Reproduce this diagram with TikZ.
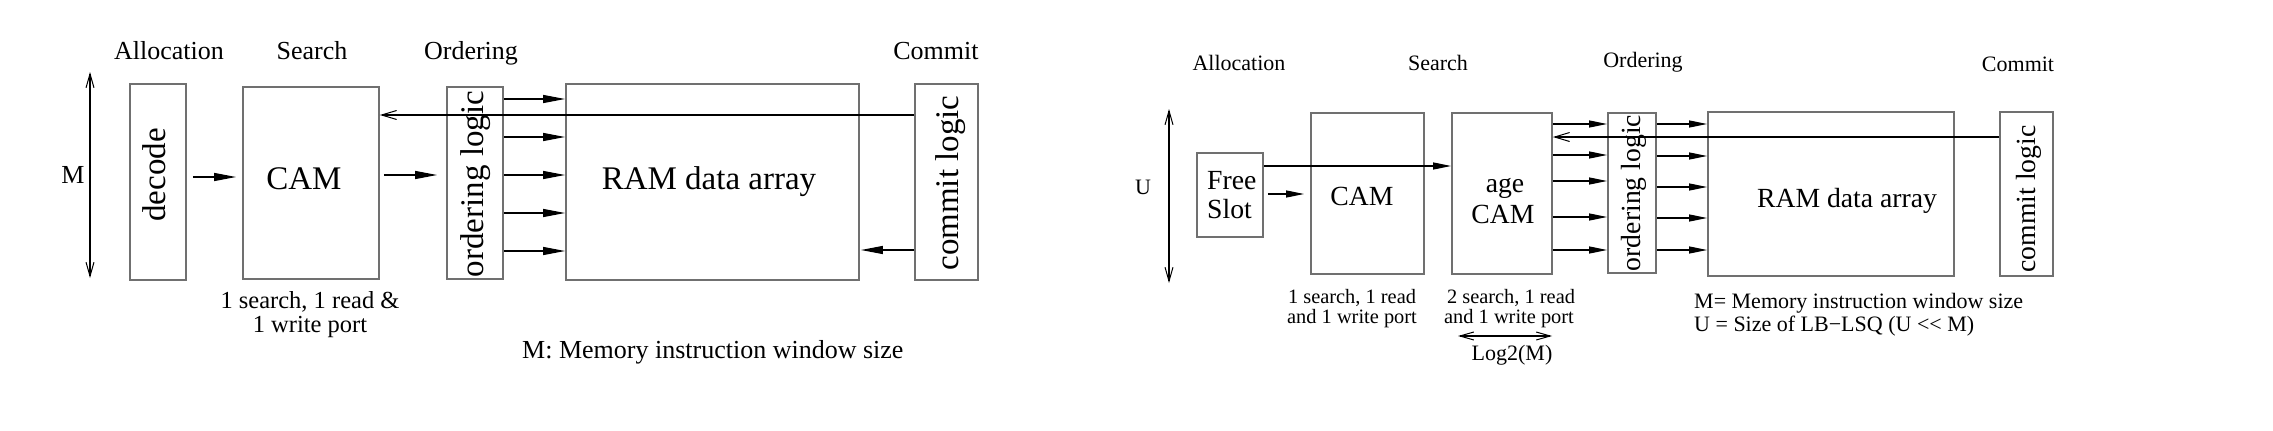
\documentclass[tikz,border=0pt]{standalone}
\usepackage{fontspec}
\setmainfont{Liberation Serif}
\usetikzlibrary{arrows.meta}
\definecolor{boxgray}{RGB}{112,112,112}
\begin{document}
\begin{tikzpicture}[x=1pt,y=-1pt,
  box/.style={draw=boxgray, line width=1.8pt, inner sep=0pt},
  tA/.style={font=\fontsize{26}{28}\selectfont, inner sep=0pt},
  tB/.style={font=\fontsize{33}{36}\selectfont, inner sep=0pt},
  tC/.style={font=\fontsize{24.5}{26}\selectfont, inner sep=0pt},
  tD/.style={font=\fontsize{22}{24}\selectfont, inner sep=0pt},
  tE/.style={font=\fontsize{27.7}{30}\selectfont, inner sep=0pt},
  tF/.style={font=\fontsize{20.4}{22}\selectfont, inner sep=0pt},
  arrL/.style={line width=1.3pt, -{Triangle[length=22pt,width=8pt]}},
  arrR/.style={line width=1.2pt, -{Triangle[length=18pt,width=7pt]}},
  fb/.style={line width=1.2pt, -{Straight Barb[length=15pt,width=9pt,line width=1pt]}},
  dimarr/.style={line width=1.2pt, {Straight Barb[length=14pt,width=8pt,line width=1pt]}-{Straight Barb[length=14pt,width=8pt,line width=1pt]}}
]
\useasboundingbox (0,0) rectangle (2273,431);

% ---------------- left diagram ----------------
\node[box, minimum width=56pt, minimum height=196pt] (dec) at (158,182) {};
\node[box, minimum width=136pt, minimum height=192pt] (cam) at (311,183) {};
\node[box, minimum width=56pt, minimum height=192pt] (ord) at (475,183) {};
\node[box, minimum width=293pt, minimum height=196pt] (ram) at (712.5,182) {};
\node[box, minimum width=63pt, minimum height=196pt] (com) at (946.5,182) {};

\node[tA, anchor=base] (hAlloc) at (169,59) {Allocation};
\node[tA, anchor=base] (hSearch) at (312,59) {Search};
\node[tA, anchor=base] (hOrd) at (471,59) {Ordering};
\node[tA, anchor=base] (hCom) at (936,59) {Commit};
\node[tA, anchor=base] (lM) at (73,183) {M};
\node[tB, anchor=base] (tcam) at (304,189) {CAM};
\node[tB, anchor=base] (tram) at (709,189) {RAM data array};
\node[tB, rotate=90] (tdec) at (154,175) {decode};
\node[tB, rotate=90] (tord) at (476,184) {ordering logic};
\node[tB, rotate=90] (tcom) at (951,183) {commit logic};
\node[tC, anchor=base] (p1) at (310,308) {1 search, 1 read \&};
\node[tC, anchor=base] (p2) at (310,332) {1 write port};
\node[tA, anchor=base west] (note1) at (522,358) {M: Memory instruction window size};

\coordinate (mtop) at (90,72);
\coordinate (mbot) at (90,278);
\draw[dimarr] (mtop) -- (mbot);

\draw[arrL, shorten <=6pt, shorten >=6pt] (dec.east |- 0,177) -- (cam.west |- 0,177);
\draw[arrL, shorten <=4pt, shorten >=9pt] (cam.east |- 0,175) -- (ord.west |- 0,175);
\foreach \yy in {99,137,175,213,251}
  \draw[arrL] (ord.east |- 0,\yy) -- (ram.west |- 0,\yy);
\draw[fb] (com.west |- 0,115) -- (cam.east |- 0,115);
\draw[arrL, shorten >=1pt] (com.west |- 0,250) -- (ram.east |- 0,250);

% ---------------- right diagram ----------------
\node[box, minimum width=66pt, minimum height=84pt] (free) at (1230,195) {};
\node[box, minimum width=113pt, minimum height=161pt] (cam2) at (1367.5,193.5) {};
\node[box, minimum width=100pt, minimum height=161pt] (age) at (1502,193.5) {};
\node[box, minimum width=48pt, minimum height=160pt] (ord2) at (1632,193) {};
\node[box, minimum width=246pt, minimum height=164pt] (ram2) at (1831,194) {};
\node[box, minimum width=53pt, minimum height=164pt] (com2) at (2026.5,194) {};

\node[tD, anchor=base] (hAlloc2) at (1239,70) {Allocation};
\node[tD, anchor=base] (hSearch2) at (1438,70) {Search};
\node[tD, anchor=base] (hOrd2) at (1643,67) {Ordering};
\node[tD, anchor=base] (hCom2) at (2018,71) {Commit};
\node[tD, anchor=base] (lU) at (1143,194) {U};
\node[tE, anchor=base west] (tfree1) at (1207,189) {Free};
\node[tE, anchor=base west] (tfree2) at (1207,218) {Slot};
\node[tE, anchor=base] (tcam2) at (1362,205) {CAM};
\node[tE, anchor=base] (tage1) at (1505,192) {age};
\node[tE, anchor=base] (tage2) at (1503,223) {CAM};
\node[tE, anchor=base] (tram2) at (1847,207) {RAM data array};
\node[tE, rotate=90] (tord2) at (1634,193) {ordering logic};
\node[tE, rotate=90] (tcom2) at (2029,199) {commit logic};
\node[tF, anchor=base] (q1) at (1352,303) {1 search, 1 read};
\node[tF, anchor=base] (q2) at (1352,323) {and 1 write port};
\node[tF, anchor=base] (r1) at (1511,303) {2 search, 1 read};
\node[tF, anchor=base] (r2) at (1509,323) {and 1 write port};
\node[tD, anchor=base] (tlog) at (1512,360) {Log2(M)};
\node[tD, anchor=base west] (note2) at (1694,308) {M= Memory instruction window size};
\node[tD, anchor=base west] (note3) at (1694,331) {U = Size of LB−LSQ (U <{}< M)};

\coordinate (utop) at (1169,109);
\coordinate (ubot) at (1169,283);
\draw[dimarr] (utop) -- (ubot);
\coordinate (lgl) at (1458,336);
\coordinate (lgr) at (1552,336);
\draw[dimarr] (lgl) -- (lgr);

\draw[arrR, shorten <=4pt, shorten >=6pt] (free.east |- 0,194) -- (cam2.west |- 0,194);
\draw[arrR] (free.east |- 0,166) -- (age.west |- 0,166);
\foreach \yy in {124,155,181,217,250}
  \draw[arrR] (age.east |- 0,\yy) -- (ord2.west |- 0,\yy);
\foreach \yy in {124,156,187,218,250}
  \draw[arrR] (ord2.east |- 0,\yy) -- (ram2.west |- 0,\yy);
\draw[fb] (com2.west |- 0,137) -- (age.east |- 0,137);
\end{tikzpicture}
\end{document}
